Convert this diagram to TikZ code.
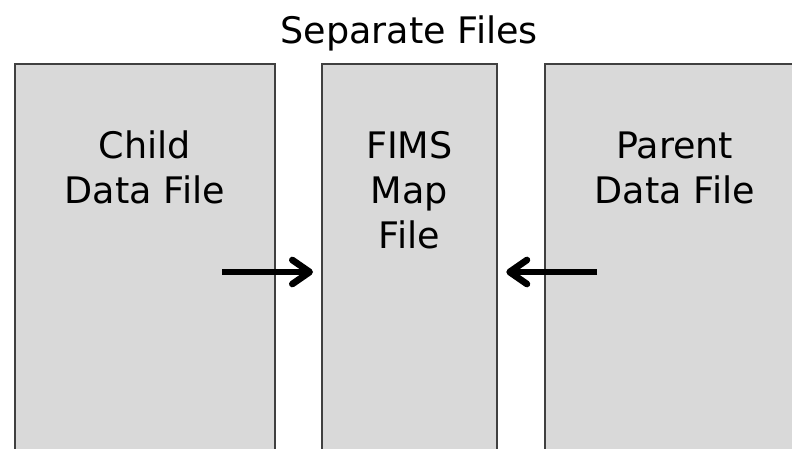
\documentclass[tikz,border=0pt]{standalone}
\usepackage{fontspec}
\setmainfont{DejaVu Sans}
\usepackage{tikz}
\usetikzlibrary{arrows.meta}
\usetikzlibrary{positioning}
\definecolor{boxgray}{HTML}{D9D9D9}
\definecolor{edgegray}{HTML}{404040}

\begin{document}
\begin{tikzpicture}[
		x=0.75pt, y=-0.75pt,
		filebox/.style={draw=edgegray, line width=1.2pt, fill=boxgray,
			anchor=north west, inner sep=0pt, minimum height=300pt},
		filetext/.style={align=center, anchor=base,
			font=\fontsize{27.4}{33.6}\selectfont},
		feed/.style={line width=5pt,
			-{Straight Barb[length=13pt, width=18pt, round]}}
	]
	\useasboundingbox (0,0) rectangle (792,449);
	\clip (0,0) rectangle (792,449);
	
	% the three files
	\foreach \name/\x/\w in {child/14/260, fims/321/175, parent/544/260}{
		\node[filebox, minimum width=\w*0.75pt] (\name) at (\x,63) {};
	}
	
	\node[filetext] (title)
		at ([yshift=14.25pt]fims.north) {Separate Files};
	
	% base is the last line here
	\node[filetext] (childtext)
		at ([yshift=-105pt]child.north) {Child\\Data File};
	\node[filetext] (fimstext)
		at ([yshift=-138.75pt]fims.north) {FIMS\\Map\\File};
	\node[filetext] (parenttext)
		at ([yshift=-105pt]parent.north) {Parent\\Data File};
	
	% links into the map file
	\coordinate (childtail) at (222,272);
	\coordinate (parenttail) at (597,272);
	
	\draw[feed]
		(childtail) -- ([xshift=-6pt]fims.west |- childtail);
	\draw[feed]
		(parenttail) -- ([xshift=6.5pt]fims.east |- parenttail);
\end{tikzpicture}
\end{document}
